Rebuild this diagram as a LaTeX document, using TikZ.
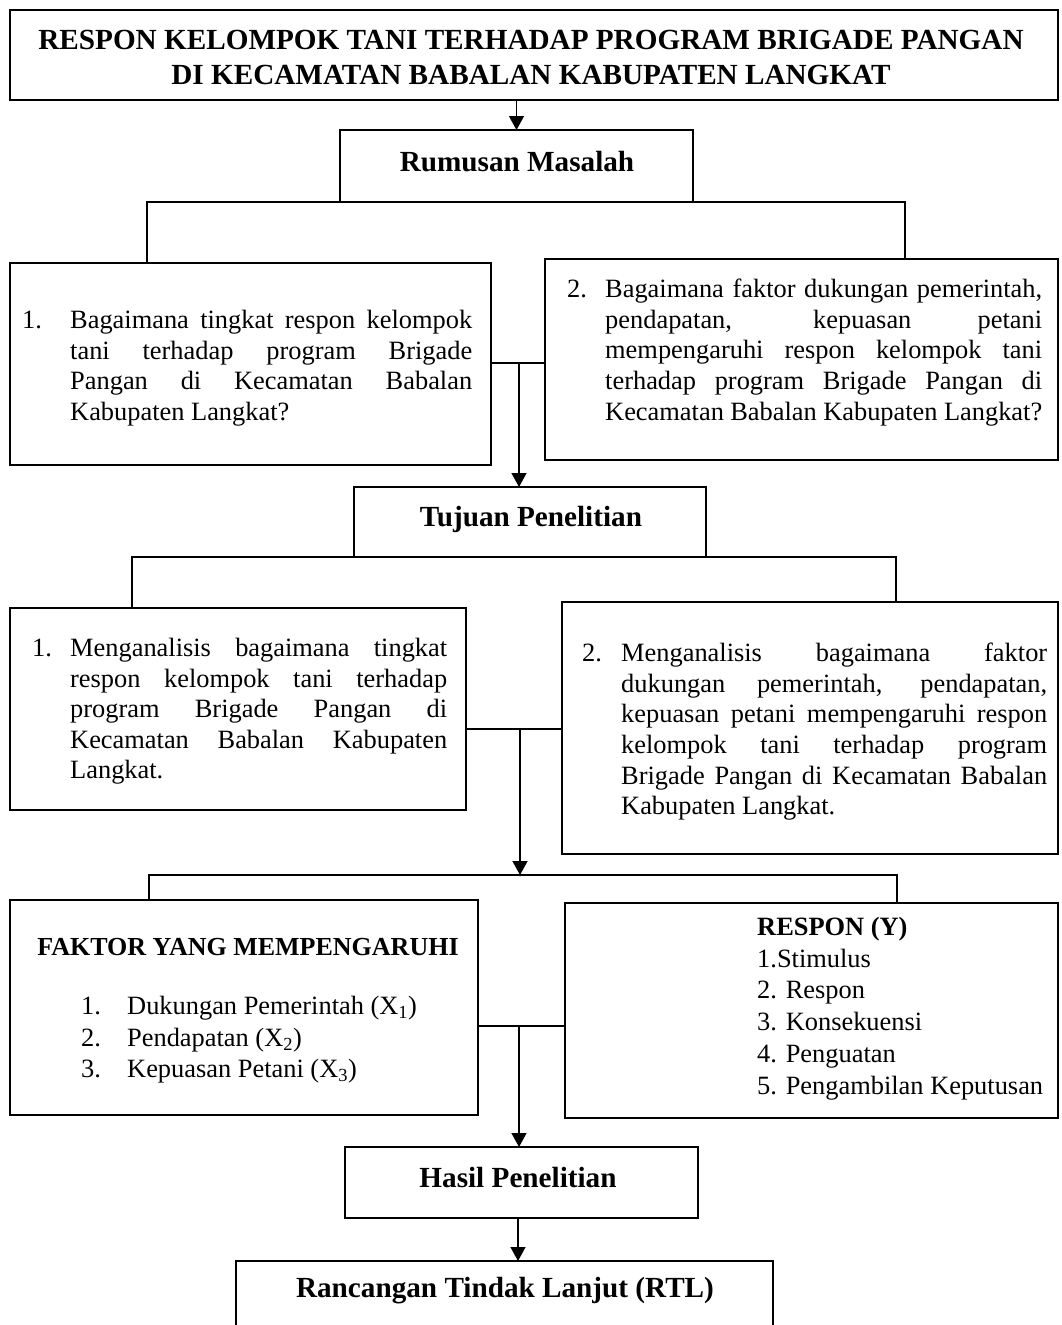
\documentclass[tikz,border=0pt]{standalone}
\usepackage{fontspec}
\setmainfont{Liberation Serif}
\usetikzlibrary{arrows.meta}
\begin{document}
\begin{tikzpicture}[x=1pt,y=-1pt,
  box/.style={draw,line width=2.8pt,inner sep=0pt,outer sep=0pt,anchor=north west},
  conn/.style={line width=1.3pt},
  arr/.style={conn,-{Triangle[width=15pt,length=14pt]}},
  body/.style={inner sep=0pt,font=\fontsize{26.4}{30.6}\selectfont},
  list/.style={inner sep=0pt,anchor=west,align=left},
  head/.style={inner sep=0pt,font=\fontsize{29.2}{35}\selectfont\bfseries,align=center}]
\useasboundingbox (0,0) rectangle (1061,1325);

% boxes
\node[box,minimum width=1048pt,minimum height=90pt] (title) at (10,10) {};
\node[box,minimum width=353pt,minimum height=72pt] (rm) at (340,130) {};
\node[box,minimum width=481pt,minimum height=202pt] (q1) at (10,263) {};
\node[box,minimum width=513pt,minimum height=201pt] (q2) at (545,259) {};
\node[box,minimum width=352pt,minimum height=70pt] (tp) at (354,487) {};
\node[box,minimum width=456pt,minimum height=202pt] (t1) at (10,608) {};
\node[box,minimum width=496pt,minimum height=252pt] (t2) at (562,602) {};
\node[box,minimum width=468pt,minimum height=215pt] (fk) at (10,900) {};
\node[box,minimum width=493pt,minimum height=215pt] (rs) at (565,903) {};
\node[box,minimum width=353pt,minimum height=71pt] (hp) at (345,1147) {};
\node[box,minimum width=537pt,minimum height=90pt] (rtl) at (236,1261) {};

% texts
\node[head] (titletext) at (531,57.5) {RESPON KELOMPOK TANI TERHADAP PROGRAM BRIGADE PANGAN\\DI KECAMATAN BABALAN KABUPATEN LANGKAT};
\node[head] (rmtext) at (517,162) {Rumusan Masalah};
\node[body,anchor=north west] (q1text) at (22,310) {\makebox[48pt][l]{1.}\parbox[t]{402pt}{Bagaimana tingkat respon kelompok\linebreak tani terhadap program Brigade\linebreak Pangan di Kecamatan Babalan\linebreak Kabupaten Langkat?}};
\node[body,anchor=north west] (q2text) at (567,279) {\makebox[38pt][l]{2.}\parbox[t]{437pt}{Bagaimana faktor dukungan pemerintah,\linebreak pendapatan, kepuasan petani\linebreak mempengaruhi respon kelompok tani\linebreak terhadap program Brigade Pangan di\linebreak Kecamatan Babalan Kabupaten Langkat?}};
\node[head] (tptext) at (531,519) {Tujuan Penelitian};
\node[body,anchor=north west] (t1text) at (32,638) {\makebox[38pt][l]{1.}\parbox[t]{377pt}{Menganalisis bagaimana tingkat\linebreak respon kelompok tani terhadap\linebreak program Brigade Pangan di\linebreak Kecamatan Babalan Kabupaten\linebreak Langkat.}};
\node[body,anchor=north west] (t2text) at (582,643) {\makebox[39pt][l]{2.}\parbox[t]{426pt}{Menganalisis bagaimana faktor\linebreak dukungan pemerintah, pendapatan,\linebreak kepuasan petani mempengaruhi respon\linebreak kelompok tani terhadap program\linebreak Brigade Pangan di Kecamatan Babalan\linebreak Kabupaten Langkat.}};
\node[inner sep=0pt,font=\fontsize{26}{30}\selectfont\bfseries] (fkhead) at (248,947) {FAKTOR YANG MEMPENGARUHI};
\node[list,font=\fontsize{26.4}{31.5}\selectfont] (fklist) at (81,1040) {\makebox[46pt][l]{1.}Dukungan Pemerintah (X\textsubscript{1})\\\makebox[46pt][l]{2.}Pendapatan (X\textsubscript{2})\\\makebox[46pt][l]{3.}Kepuasan Petani (X\textsubscript{3})};
\node[list,font=\fontsize{26.4}{31.8}\selectfont] (rslist) at (757,1008.5) {\textbf{RESPON (Y)}\\1.Stimulus\\2. Respon\\3. Konsekuensi\\4. Penguatan\\5. Pengambilan Keputusan};
\node[head] (hptext) at (518,1177) {Hasil Penelitian};
\node[head] (rtltext) at (505,1291) {Rancangan Tindak Lanjut (RTL)};

% junction coordinates
\coordinate (b1l) at (147,203);
\coordinate (b1r) at (905,203);
\coordinate (j1) at (519,363);
\coordinate (b2l) at (132,558);
\coordinate (b2r) at (896,558);
\coordinate (j2) at (520,729);
\coordinate (k3) at (520,875);
\coordinate (b3l) at (149,875);
\coordinate (b3r) at (897,875);
\coordinate (j3) at (519,1026);
\coordinate (j4) at (518,1218);

% connectors
\draw[arr] (rm.north |- title.south) -- (rm.north);
\draw[conn] (rm.south west) -| (q1.north -| b1l);
\draw[conn] (rm.south east) -| (q2.north -| b1r);
\draw[conn] (q1.east |- j1) -- (q2.west |- j1);
\draw[arr] (j1) -- (j1 |- tp.north);
\draw[conn] (tp.south west) -| (t1.north -| b2l);
\draw[conn] (tp.south east) -| (t2.north -| b2r);
\draw[conn] (t1.east |- j2) -- (t2.west |- j2);
\draw[arr] (j2) -- (k3);
\draw[conn] (fk.north -| b3l) |- (b3r) -- (rs.north -| b3r);
\draw[conn] (fk.east |- j3) -- (rs.west |- j3);
\draw[arr] (j3) -- (j3 |- hp.north);
\draw[arr] (j4 |- hp.south) -- (j4 |- rtl.north);
\end{tikzpicture}
\end{document}
